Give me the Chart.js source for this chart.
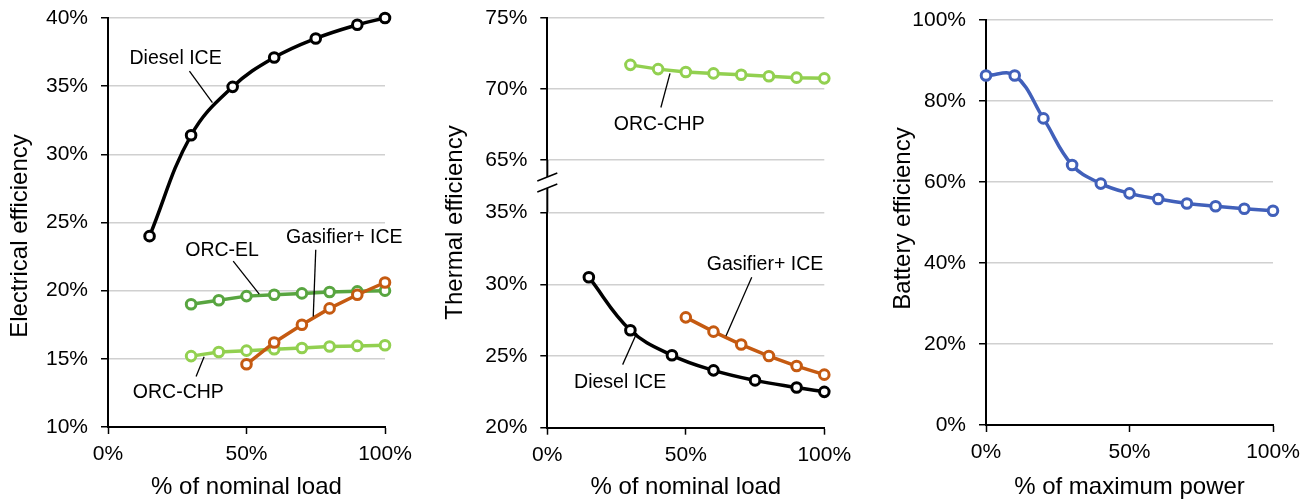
<!DOCTYPE html>
<html>
<head>
<meta charset="utf-8">
<script src="https://cdn.jsdelivr.net/npm/chart.js@4"></script>
<style>
  body { margin: 0; background: #fff; }
  #page { position: relative; width: 1309px; height: 502px; overflow: hidden; }
  canvas { position: absolute; top: 0; }
</style>
</head>
<body>
<div id="page">
  <canvas id="panneau1" width="440" height="502" style="left:0px"></canvas>
  <canvas id="panneau2haut" width="430" height="502" style="left:440px"></canvas>
  <canvas id="panneau2bas" width="430" height="502" style="left:440px"></canvas>
  <canvas id="panneau3" width="439" height="502" style="left:870px"></canvas>
</div>
<script>
// ================================
// DONNÉES
// ================================

const CHARGE_DIESEL = [15, 30, 45, 60, 75, 90, 100];
const CHARGE_ORC    = [30, 40, 50, 60, 70, 80, 90, 100];
const CHARGE_GAZ    = [50, 60, 70, 80, 90, 100];
const PUISSANCE_BATT = [0, 10, 20, 30, 40, 50, 60, 70, 80, 90, 100];

// rendement électrique (%)
const ELEC_DIESEL  = [24.0, 31.4, 34.95, 37.1, 38.5, 39.5, 40.0];
const ELEC_ORC_EL  = [19.0, 19.3, 19.6, 19.7, 19.8, 19.9, 19.95, 20.0];
const ELEC_ORC_CHP = [15.2, 15.5, 15.6, 15.7, 15.8, 15.9, 15.95, 16.0];
const ELEC_GAZ     = [14.6, 16.2, 17.5, 18.7, 19.7, 20.6];

// rendement thermique (%)
const THERM_ORC_CHP = [71.7, 71.4, 71.2, 71.1, 71.0, 70.9, 70.8, 70.75];
const THERM_DIESEL  = [30.5, 26.8, 25.05, 24.0, 23.3, 22.8, 22.5];
const THERM_GAZ     = [27.7, 26.7, 25.8, 25.0, 24.3, 23.7];

// rendement batterie (%)
const EFF_BATT = [86.3, 86.3, 75.7, 64.2, 59.6, 57.2, 55.8, 54.7, 54.0, 53.4, 52.9];

// graduations
const GRAD_X           = [0, 50, 100];
const GRAD_ELEC        = [10, 15, 20, 25, 30, 35, 40];
const GRAD_THERM_HAUT  = [65, 70, 75];
const GRAD_THERM_BAS   = [20, 25, 30, 35];
const GRAD_BATT        = [0, 20, 40, 60, 80, 100];

// ================================
// STYLE
// ================================

const POLICE = "Arial, 'Liberation Sans', sans-serif";
const NOIR = '#000000';
const VERT_FONCE = '#58A540';
const VERT_CLAIR = '#92D050';
const ORANGE = '#C55A11';
const BLEU = '#4160BA';
const GRILLE = '#d0d0d0';

Chart.defaults.font.family = POLICE;
Chart.defaults.font.size = 21;
Chart.defaults.color = NOIR;

function points(xs, ys) {
  return xs.map(function(x, i) { return { x: x, y: ys[i] }; });
}

function serie(xs, ys, couleur, lisse) {
  return {
    data: points(xs, ys),
    borderColor: couleur,
    borderWidth: 3.5,
    pointBackgroundColor: '#fff',
    pointBorderColor: couleur,
    pointBorderWidth: 3,
    pointRadius: 4.8,
    tension: lisse ? 0.4 : 0,
    clip: false
  };
}

// ================================
// PLUGINS
// ================================

const titreY = {
  id: 'titreY',
  afterDraw(chart, args, opts) {
    if (!opts.texte) return;
    const ctx = chart.ctx;
    ctx.save();
    ctx.translate(opts.x, opts.y);
    ctx.rotate(-Math.PI / 2);
    ctx.font = '24px ' + POLICE;
    ctx.fillStyle = NOIR;
    ctx.textAlign = 'center';
    ctx.textBaseline = 'middle';
    ctx.fillText(opts.texte, 0, 0);
    ctx.restore();
  }
};

const etiquettes = {
  id: 'etiquettes',
  afterDatasetsDraw(chart, args, opts) {
    const sx = chart.scales.x, sy = chart.scales.y;
    const ctx = chart.ctx;
    (opts.liste || []).forEach(function(e) {
      ctx.save();
      ctx.strokeStyle = NOIR;
      ctx.lineWidth = 1.3;
      ctx.beginPath();
      ctx.moveTo(sx.getPixelForValue(e.trait[0]), sy.getPixelForValue(e.trait[1]));
      ctx.lineTo(sx.getPixelForValue(e.trait[2]), sy.getPixelForValue(e.trait[3]));
      ctx.stroke();
      ctx.font = '19.5px ' + POLICE;
      ctx.fillStyle = NOIR;
      ctx.textAlign = 'center';
      ctx.textBaseline = 'middle';
      ctx.fillText(e.texte, sx.getPixelForValue(e.x), sy.getPixelForValue(e.y));
      ctx.restore();
    });
  }
};

// coupure de l'axe Y (panneau 2)
const coupure = {
  id: 'coupure',
  afterDraw(chart) {
    const ctx = chart.ctx;
    const x = chart.chartArea.left;
    const b = chart.chartArea.bottom;
    ctx.save();
    ctx.strokeStyle = NOIR;
    ctx.lineWidth = 2;
    ctx.beginPath();
    ctx.moveTo(x, b); ctx.lineTo(x, b + 17);
    ctx.moveTo(x, b + 28); ctx.lineTo(x, b + 53);
    ctx.stroke();
    ctx.lineWidth = 1.5;
    ctx.beginPath();
    ctx.moveTo(x - 10, b + 21); ctx.lineTo(x + 10, b + 13);
    ctx.moveTo(x - 10, b + 32); ctx.lineTo(x + 10, b + 24);
    ctx.stroke();
    ctx.restore();
  }
};

// ================================
// AXES
// ================================

function axeX(titre, hauteur, visible) {
  return {
    type: 'linear',
    display: visible,
    min: GRAD_X[0],
    max: GRAD_X[GRAD_X.length - 1],
    afterBuildTicks: function(axis) { axis.ticks = GRAD_X.map(function(v) { return { value: v }; }); },
    afterFit: function(axis) {
      axis.height = hauteur;
      axis.paddingLeft = 0;
      axis.paddingRight = 0;
    },
    border: { color: NOIR, width: 2 },
    grid: { drawOnChartArea: false, drawTicks: true, tickLength: 7, tickColor: NOIR, tickWidth: 1.5 },
    ticks: { padding: 8, callback: function(v) { return v + '%'; } },
    title: { display: true, text: titre, font: { size: 24 }, padding: { top: 0, bottom: 0 } }
  };
}

function axeY(grad, largeur) {
  return {
    type: 'linear',
    min: grad[0],
    max: grad[grad.length - 1],
    afterBuildTicks: function(axis) { axis.ticks = grad.map(function(v) { return { value: v }; }); },
    afterFit: function(axis) {
      axis.width = largeur;
      axis.paddingTop = 0;
      axis.paddingBottom = 0;
    },
    border: { color: NOIR, width: 2 },
    grid: { color: GRILLE, lineWidth: 1.5, drawTicks: true, tickLength: 7, tickColor: NOIR, tickWidth: 1.5 },
    ticks: { padding: 13, callback: function(v) { return v + '%'; } }
  };
}

function options(x, y, padding, extra) {
  return {
    responsive: false,
    animation: false,
    layout: { padding: padding },
    scales: { x: x, y: y },
    plugins: Object.assign({ legend: { display: false }, tooltip: { enabled: false } }, extra)
  };
}

// ================================
// PANNEAU 1 : RENDEMENT ÉLECTRIQUE
// ================================

new Chart(document.getElementById('panneau1'), {
  type: 'line',
  data: {
    datasets: [
      serie(CHARGE_GAZ, ELEC_GAZ, ORANGE, false),
      serie(CHARGE_DIESEL, ELEC_DIESEL, NOIR, true),
      serie(CHARGE_ORC, ELEC_ORC_EL, VERT_FONCE, false),
      serie(CHARGE_ORC, ELEC_ORC_CHP, VERT_CLAIR, false)
    ]
  },
  options: options(
    axeX('% of nominal load', 75, true),
    axeY(GRAD_ELEC, 108),
    { top: 18, left: 0, right: 55, bottom: 0 },
    {
      titreY: { texte: 'Electrical efficiency', x: 20, y: 236 },
      etiquettes: { liste: [
        { texte: 'Diesel ICE',    x: 24.4, y: 37.05, trait: [29.4, 36.1, 37.7, 33.8] },
        { texte: 'ORC-EL',        x: 41.2, y: 22.94, trait: [45.2, 22.16, 54.6, 19.75] },
        { texte: 'Gasifier+ ICE', x: 85.3, y: 23.88, trait: [75.0, 23.0, 74.1, 18.1] },
        { texte: 'ORC-CHP',       x: 25.4, y: 12.53, trait: [31.8, 13.7, 34.7, 15.16] }
      ] }
    }
  ),
  plugins: [titreY, etiquettes]
});

// ================================
// PANNEAU 2 : RENDEMENT THERMIQUE
// ================================

new Chart(document.getElementById('panneau2haut'), {
  type: 'line',
  data: { datasets: [ serie(CHARGE_ORC, THERM_ORC_CHP, VERT_CLAIR, false) ] },
  options: options(
    axeX('', 0, false),
    axeY(GRAD_THERM_HAUT, 107.3),
    { top: 18, left: 0, right: 45.7, bottom: 342 },
    {
      etiquettes: { liste: [
        { texte: 'ORC-CHP', x: 40.4, y: 67.52, trait: [44.3, 71.1, 41.0, 68.7] }
      ] }
    }
  ),
  plugins: [etiquettes, coupure]
});

new Chart(document.getElementById('panneau2bas'), {
  type: 'line',
  data: {
    datasets: [
      serie(CHARGE_GAZ, THERM_GAZ, ORANGE, false),
      serie(CHARGE_DIESEL, THERM_DIESEL, NOIR, true)
    ]
  },
  options: options(
    axeX('% of nominal load', 74.3, true),
    axeY(GRAD_THERM_BAS, 107.3),
    { top: 212.7, left: 0, right: 45.7, bottom: 0 },
    {
      titreY: { texte: 'Thermal efficiency', x: 15, y: 222.5 },
      etiquettes: { liste: [
        { texte: 'Gasifier+ ICE', x: 78.6, y: 31.35, trait: [73.8, 30.49, 64.5, 26.4] },
        { texte: 'Diesel ICE',    x: 26.3, y: 23.16, trait: [32.3, 26.6, 27.2, 24.4] }
      ] }
    }
  ),
  plugins: [titreY, etiquettes]
});

// ================================
// PANNEAU 3 : RENDEMENT BATTERIE
// ================================

new Chart(document.getElementById('panneau3'), {
  type: 'line',
  data: { datasets: [ serie(PUISSANCE_BATT, EFF_BATT, BLEU, true) ] },
  options: options(
    axeX('% of maximum power', 77, true),
    axeY(GRAD_BATT, 116),
    { top: 20, left: 0, right: 36, bottom: 0 },
    {
      titreY: { texte: 'Battery efficiency', x: 33.3, y: 218.5 }
    }
  ),
  plugins: [titreY]
});
</script>
</body>
</html>
